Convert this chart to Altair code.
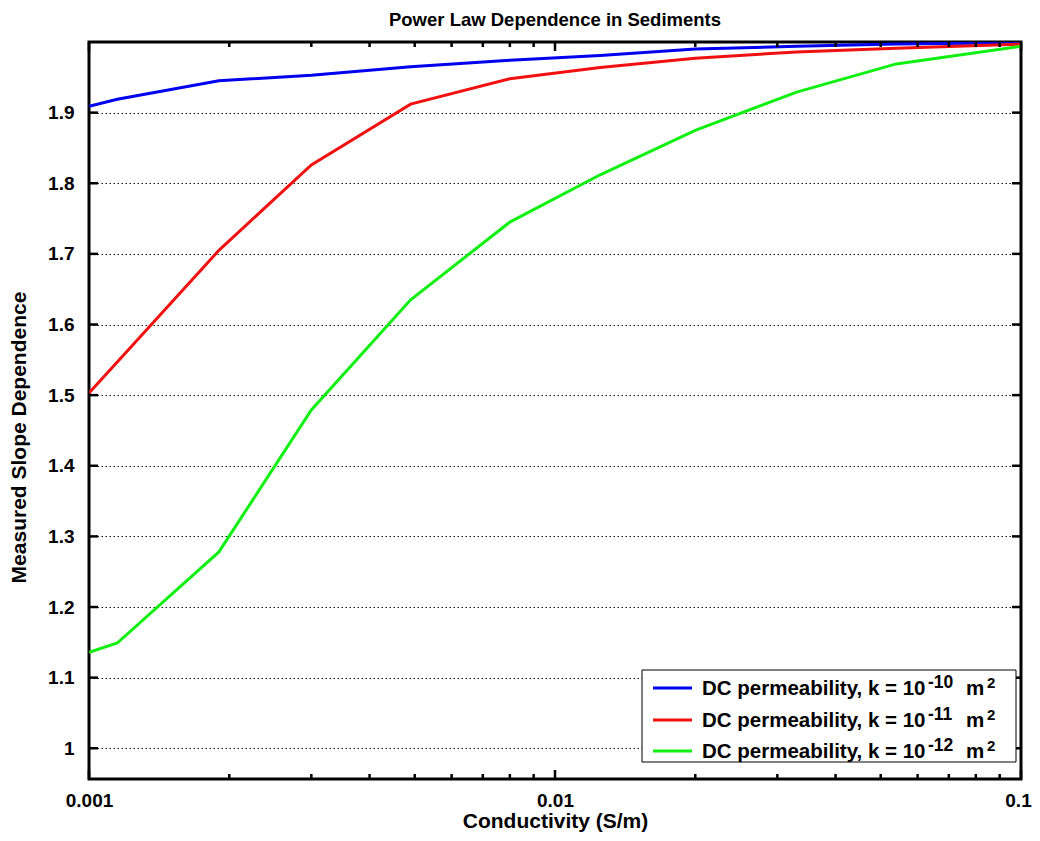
import altair as alt
import pandas as pd

# ---- data ----
conductivity = [0.001, 0.00115, 0.0019, 0.003, 0.0049, 0.008, 0.0125, 0.02, 0.033, 0.054, 0.1]
slope_k10 = [1.909, 1.919, 1.945, 1.953, 1.965, 1.974, 1.981, 1.990, 1.994, 1.997, 1.999]
slope_k11 = [1.503, 1.547, 1.705, 1.826, 1.912, 1.948, 1.964, 1.977, 1.986, 1.991, 1.997]
slope_k12 = [1.136, 1.149, 1.278, 1.479, 1.635, 1.745, 1.812, 1.875, 1.929, 1.969, 1.994]

legend_prefix = "DC permeability, k = 10"
legend_exponents = ["-10", "-11", "-12"]
legend_unit = "m"
legend_unit_power = "2"
series_labels = [legend_prefix + "^" + e + " m^2" for e in legend_exponents]
series_colors = ["#0000f0", "#f01010", "#10f010"]

y_tick_values = [1.0, 1.1, 1.2, 1.3, 1.4, 1.5, 1.6, 1.7, 1.8, 1.9]
x_major_ticks = [0.001, 0.01, 0.1]
x_minor_ticks = [0.002, 0.003, 0.004, 0.005, 0.006, 0.007, 0.008, 0.009,
                 0.02, 0.03, 0.04, 0.05, 0.06, 0.07, 0.08, 0.09]

rows = []
for lab, ys in zip(series_labels, [slope_k10, slope_k11, slope_k12]):
    for i, (x, y) in enumerate(zip(conductivity, ys)):
        rows.append({"series": lab, "x": x, "y": y, "order": i})
df = pd.DataFrame(rows)
df_yt = pd.DataFrame({"y": y_tick_values})
df_xmaj = pd.DataFrame({"x": x_major_ticks})
df_xmin = pd.DataFrame({"x": x_minor_ticks})
df_one = pd.DataFrame({"k": [0]})

W, H = 932, 737
FONT = "Liberation Sans"

xscale = alt.Scale(type="log", domain=[0.001, 0.1], nice=False)
yscale = alt.Scale(domain=[0.9565, 2.0], nice=False, zero=False)

xaxis = alt.Axis(values=x_major_ticks, format="~g", grid=False, ticks=False,
                 domain=False, labelPadding=12, labelFontSize=19, labelFlush=False,
                 labelOverlap=False, labelBound=False,
                 labelOffset={"condition": {"test": "datum.value > 0.05", "value": -3},
                              "value": 0},
                 labelFontWeight="bold", labelFont=FONT, labelColor="black",
                 title="Conductivity (S/m)", titleFontSize=21, titleFont=FONT,
                 titleFontWeight="bold", titleColor="black",
                 titleY=48, titleBaseline="alphabetic")
yaxis = alt.Axis(values=y_tick_values, format="~g", grid=True, ticks=False,
                 domain=False, gridColor="black", gridDash=[1.5, 2.5],
                 gridWidth=1, gridOpacity=0.9, labelFlush=False, labelOverlap=False,
                 labelPadding=15, labelFontSize=19, labelFontWeight="bold",
                 labelFont=FONT, labelColor="black",
                 title="Measured Slope Dependence", titleFontSize=21,
                 titleFont=FONT, titleFontWeight="bold", titleColor="black",
                 titleX=-64, titleY=395, titleAngle=270,
                 titleBaseline="alphabetic", titleAlign="center")

lines = alt.Chart(df).mark_line(strokeWidth=3, clip=True).encode(
    x=alt.X("x:Q", scale=xscale, axis=xaxis),
    y=alt.Y("y:Q", scale=yscale, axis=yaxis),
    color=alt.Color("series:N",
                    scale=alt.Scale(domain=series_labels, range=series_colors),
                    legend=None),
    order="order:Q",
)

tick_style = dict(color="black", strokeWidth=2.5)

layers = [lines]
layers.append(alt.Chart(df_yt).mark_rule(**tick_style).encode(
    y=alt.Y("y:Q", scale=yscale, axis=yaxis), x=alt.value(0), x2=alt.value(9)))
layers.append(alt.Chart(df_yt).mark_rule(**tick_style).encode(
    y=alt.Y("y:Q", scale=yscale, axis=yaxis), x=alt.value(W), x2=alt.value(W - 9)))
for data, length in [(df_xmaj, 9), (df_xmin, 5)]:
    layers.append(alt.Chart(data).mark_rule(**tick_style).encode(
        x=alt.X("x:Q", scale=xscale, axis=xaxis), y=alt.value(H), y2=alt.value(H - length)))
    layers.append(alt.Chart(data).mark_rule(**tick_style).encode(
        x=alt.X("x:Q", scale=xscale, axis=xaxis), y=alt.value(0), y2=alt.value(length)))

# ---- legend box (drawn in the plot's pixel frame) ----
LX0, LX1, LY0, LY1 = 553, 927, 628, 720
layers.append(alt.Chart(df_one).mark_rect(fill="white", stroke="black", strokeWidth=1).encode(
    x=alt.value(LX0), x2=alt.value(LX1), y=alt.value(LY0), y2=alt.value(LY1)))
row_centers = [646, 678, 709]
MAIN_FS, SUP_FS = 20.5, 17.5
for exp, col, yc in zip(legend_exponents, series_colors, row_centers):
    layers.append(alt.Chart(df_one).mark_rule(color=col, strokeWidth=3).encode(
        x=alt.value(564), x2=alt.value(603), y=alt.value(yc)))
    txt = dict(font=FONT, fontWeight="bold", color="black", align="left",
               baseline="alphabetic")
    layers.append(alt.Chart(df_one).mark_text(fontSize=MAIN_FS, text=legend_prefix, **txt).encode(
        x=alt.value(613), y=alt.value(yc + 7)))
    layers.append(alt.Chart(df_one).mark_text(fontSize=SUP_FS, text=exp, **txt).encode(
        x=alt.value(839), y=alt.value(yc)))
    layers.append(alt.Chart(df_one).mark_text(fontSize=MAIN_FS, text=legend_unit, **txt).encode(
        x=alt.value(877), y=alt.value(yc + 7)))
    layers.append(alt.Chart(df_one).mark_text(fontSize=15, text=legend_unit_power, **txt).encode(
        x=alt.value(898), y=alt.value(yc)))

chart = alt.layer(*layers).properties(
    width=W, height=H,
    title=alt.TitleParams("Power Law Dependence in Sediments", fontSize=18.5,
                          fontWeight="bold", font=FONT, color="black",
                          anchor="middle", offset=11, frame="group"),
    autosize=alt.AutoSizeParams(type="none"),
    padding={"left": 81, "top": 34, "right": 11, "bottom": 54},
).configure(
    background="white"
).configure_view(
    stroke="black", strokeWidth=3
)

chart.save("out.html", embed_options={"renderer": "svg", "actions": False})
